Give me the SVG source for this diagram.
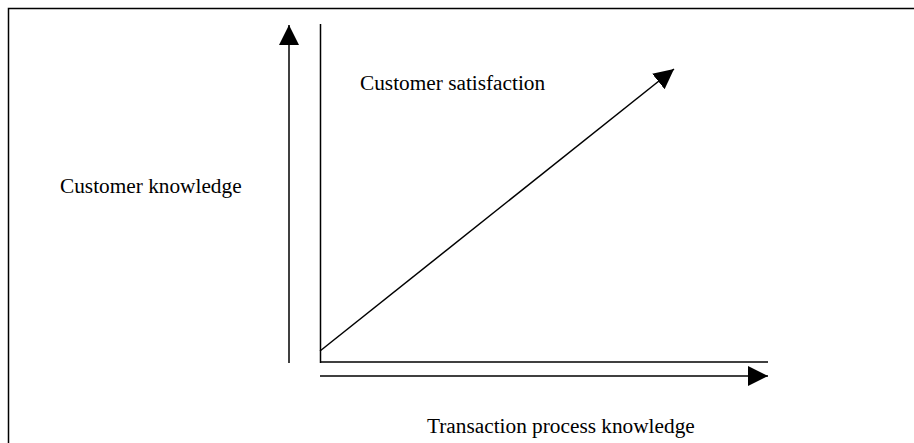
<svg xmlns="http://www.w3.org/2000/svg" width="914" height="443" viewBox="0 0 914 443">
  <defs>
    <style>
      .frame { fill: none; stroke: #000; stroke-width: 1.5; }
      .axis { stroke: #000; stroke-width: 1.5; fill: none; }
      .label { font-family: "Liberation Serif", "Times New Roman", serif; font-size: 21.3px; fill: #000; }
    </style>
    <marker id="head" markerUnits="userSpaceOnUse" markerWidth="22" markerHeight="22" refX="20" refY="10" orient="auto">
      <path d="M0,0 L20,10 L0,20 Z" fill="#000"/>
    </marker>
  </defs>
  <rect width="914" height="443" fill="#fff"/>
  <!-- outer frame: only top and left edges fall inside the page -->
  <path class="frame" d="M8.5,460 L8.5,8.5 L930,8.5"/>

  <g id="connectors">
    <!-- vertical arrow: customer knowledge -->
    <line class="axis" x1="289" y1="363" x2="289" y2="25" marker-end="url(#head)"/>
    <!-- plain axes -->
    <line class="axis" x1="320.5" y1="24" x2="320.5" y2="363"/>
    <line class="axis" x1="320" y1="362" x2="768" y2="362"/>
    <!-- horizontal arrow: transaction process knowledge -->
    <line class="axis" x1="320" y1="376" x2="768" y2="376" marker-end="url(#head)"/>
    <!-- diagonal arrow: customer satisfaction -->
    <line class="axis" x1="320" y1="351" x2="674" y2="69" marker-end="url(#head)"/>
  </g>

  <g id="customer-satisfaction">
    <text class="label" x="360" y="90">Customer satisfaction</text>
  </g>
  <g id="customer-knowledge">
    <text class="label" x="60" y="193">Customer knowledge</text>
  </g>
  <g id="transaction-process-knowledge">
    <text class="label" x="427" y="433">Transaction process knowledge</text>
  </g>
</svg>
